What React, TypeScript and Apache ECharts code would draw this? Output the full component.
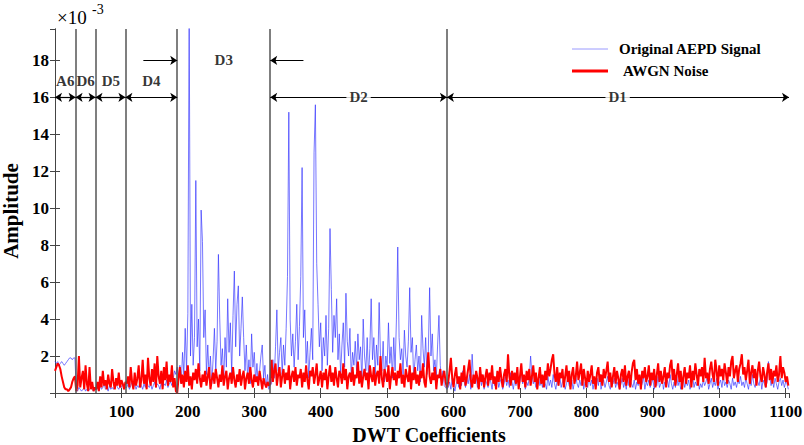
import React, { useEffect, useRef } from "react";
import * as echarts from "echarts";

const FONT = '"Times New Roman", "Liberation Serif", "DejaVu Serif", serif';
const STEP = 2; // coefficient spacing of stored samples
const UNIT = 1e-4; // stored values are in units of 1e-4

// Band boundaries (coefficient index)
const boundaries = [31, 61, 106, 184, 324, 590];
const xMax = 1105;

// AWGN noise (x 1e-4), per band
const redA6 = [12, 14, 16, 15, 13, 9, 6, 3, 2, 2, 1, 2, 3, 6, 8, 9];
const redD6 = [1, 4, 20, 3, 8, 12, 2, 15, 5, 1, 14, 2, 6, 1, 3];
const redD5 = [2, 6, 1, 9, 3, 12, 4, 7, 2, 10, 5, 3, 13, 6, 2, 8, 4, 11, 3, 7, 5, 2, 6];
const redD4 = [5, 9, 3, 14, 6, 2, 11, 4, 8, 15, 3, 7, 18, 5, 10, 2, 19, 8, 4, 13, 6, 16, 3, 20, 9, 5, 12, 2, 14, 7, 17, 4, 10, 6, 15, 3, 8, 1, 0];
const redD3 = [8, 14, 5, 10, 3, 12, 6, 15, 4, 9, 2, 11, 7, 13, 5, 16, 8, 3, 10, 6, 12, 4, 9, 14, 2, 7, 11, 5, 13, 8, 3, 10, 6, 15, 4, 9, 12, 2, 8, 11, 5, 14, 7, 3, 10, 6, 13, 4, 9, 12, 2, 8, 11, 5, 14, 7, 3, 10, 6, 9, 4, 12, 7, 2, 8, 5, 3, 6, 4, 5];
const redD2 = [
  18, 6, 12, 16, 4, 10, 14, 3, 9, 13,
  5, 11, 7, 15, 2, 9, 12, 6, 14, 4,
  10, 8, 13, 3, 11, 6, 15, 7, 2, 12,
  9, 14, 5, 10, 16, 4, 8, 12, 3, 11,
  7, 13, 2, 9, 15, 6, 11, 4, 14, 8,
  3, 12, 10, 5, 16, 7, 13, 2, 9, 11,
  6, 14, 4, 10, 8, 17, 5, 12, 3, 9,
  13, 7, 11, 2, 15, 9, 6, 14, 4, 10,
  12, 5, 20, 8, 3, 13, 10, 6, 15, 2,
  9, 14, 7, 11, 4, 12, 8, 16, 5, 10,
  3, 13, 9, 6, 15, 2, 11, 7, 14, 5,
  10, 4, 12, 8, 16, 6, 3, 13, 22, 9,
  5, 11, 7, 14, 2, 10, 8, 13, 4, 9,
  12, 6, 3,
];
const redD1 = [
  6, 12, 19, 8, 3, 10, 14, 5, 9, 2,
  11, 6, 15, 4, 8, 13, 18, 7, 3, 10,
  5, 12, 8, 2, 14, 6, 10, 3, 9, 13,
  4, 11, 7, 15, 5, 9, 2, 12, 6, 14,
  8, 3, 10, 13, 6, 21, 9, 4, 12, 7,
  11, 5, 14, 2, 9, 16, 6, 10, 3, 12,
  7, 13, 4, 9, 15, 6, 11, 2, 8, 14,
  5, 10, 3, 12, 7, 16, 9, 13, 18, 21,
  10, 6, 14, 4, 11, 8, 13, 3, 9, 15,
  6, 12, 2, 10, 14, 5, 9, 17, 7, 11,
  16, 4, 13, 8, 3, 12, 6, 10, 15, 5,
  9, 2, 11, 14, 6, 10, 4, 13, 8, 12,
  17, 6, 11, 3, 9, 14, 5, 12, 8, 2,
  10, 13, 6, 15, 4, 9, 12, 3, 11, 16,
  18, 7, 13, 5, 10, 2, 12, 8, 14, 6,
  9, 15, 4, 11, 7, 13, 3, 10, 16, 6,
  12, 5, 9, 14, 3, 11, 8, 15, 18, 7,
  13, 4, 10, 16, 6, 12, 2, 9, 14, 5,
  11, 8, 15, 3, 12, 7, 16, 10, 4, 13,
  9, 14, 6, 19, 8, 11, 5, 13, 17, 10,
  6, 18, 12, 4, 15, 9, 13, 7, 16, 11,
  5, 14, 9, 17, 20, 8, 12, 15, 6, 13,
  16, 21, 10, 14, 7, 12, 18, 5, 11, 15,
  8, 13, 4, 12, 17, 9, 6, 14, 10, 3,
  11, 16, 7, 13, 5, 12, 9, 15, 6, 10,
  20, 8, 14, 11, 6, 9, 4,
];

// Original AEPD signal (x 1e-4), per band
const blueA6 = [17, 16, 17, 15, 16, 17, 16, 15, 16, 17, 18, 19, 19, 18, 19, 19];
const blueD6 = [2, 1, 3, 2, 1, 2, 3, 1, 2, 1, 2, 3, 2, 1, 2];
const blueD5 = [2, 3, 1, 4, 2, 3, 5, 2, 3, 1, 4, 2, 3, 2, 4, 5, 3, 2, 4, 3, 5, 2, 3];
const blueD4 = [3, 5, 2, 4, 6, 3, 5, 2, 4, 3, 6, 4, 2, 5, 3, 7, 4, 3, 5, 2, 4, 6, 3, 5, 4, 2, 6, 3, 5, 4, 7, 3, 5, 6, 4, 8, 12, 10, 14];
const blueD3 = [
  8, 15, 5, 22, 10, 35, 12, 43, 210, 20,
  48, 15, 30, 115, 25, 40, 12, 99, 82, 30,
  45, 10, 26, 8, 20, 5, 18, 35, 12, 28,
  75, 40, 15, 24, 6, 30, 14, 51, 22, 38,
  10, 42, 66, 25, 48, 58, 20, 35, 52, 30,
  12, 26, 8, 18, 5, 32, 14, 22, 6, 16,
  4, 12, 20, 26, 8, 15, 3, 10, 2, 4,
];
const blueD2 = [
  5, 18, 8, 25, 45, 12, 22, 30, 10, 26,
  15, 35, 63, 152, 40, 20, 32, 14, 28, 48,
  18, 36, 63, 122, 30, 45, 16, 28, 8, 22,
  35, 18, 130, 156, 70, 48, 25, 38, 12, 30,
  20, 42, 15, 35, 89, 56, 22, 42, 30, 51,
  18, 32, 10, 26, 38, 14, 54, 28, 20, 35,
  8, 22, 15, 28, 12, 32, 18, 25, 6, 40,
  20, 12, 30, 8, 24, 51, 18, 30, 10, 26,
  15, 49, 20, 12, 28, 6, 20, 14, 38, 16,
  25, 8, 30, 12, 40, 79, 30, 18, 24, 10,
  34, 20, 14, 28, 57, 22, 30, 8, 18, 26,
  12, 20, 6, 42, 24, 14, 30, 10, 22, 57,
  20, 32, 12, 18, 8, 26, 42, 15, 6, 12,
  4, 3, 2,
];
const blueD1 = [
  3, 6, 2, 8, 4, 1, 5, 7, 3, 9,
  4, 12, 6, 3, 8, 5, 10, 2, 21, 7,
  5, 9, 3, 6, 11, 4, 8, 2, 7, 5,
  3, 8, 6, 2, 9, 4, 7, 10, 3, 6,
  8, 2, 5, 9, 4, 7, 3, 11, 6, 2,
  7, 4, 9, 3, 6, 12, 5, 8, 2, 6,
  4, 8, 20, 10, 5, 7, 3, 6, 9, 4,
  6, 3, 8, 5, 2, 9, 4, 7, 3, 10,
  5, 2, 7, 4, 9, 3, 6, 8, 2, 5,
  8, 4, 3, 7, 2, 6, 9, 5, 3, 7,
  4, 8, 2, 6, 5, 3, 9, 4, 7, 2,
  6, 3, 8, 4, 10, 2, 5, 7, 3, 6,
  9, 4, 2, 7, 5, 8, 3, 6, 4, 2,
  5, 8, 3, 6, 2, 9, 4, 7, 5, 3,
  7, 2, 6, 4, 8, 3, 5, 9, 2, 6,
  4, 7, 3, 5, 8, 2, 6, 4, 9, 3,
  5, 8, 2, 6, 4, 7, 3, 10, 5, 2,
  6, 3, 9, 4, 7, 2, 5, 8, 3, 6,
  4, 7, 2, 5, 9, 3, 6, 4, 8, 2,
  5, 3, 7, 4, 6, 9, 2, 5, 8, 3,
  6, 4, 8, 2, 5, 7, 3, 9, 4, 6,
  3, 7, 5, 2, 8, 4, 6, 3, 7, 5,
  9, 4, 6, 3, 8, 5, 2, 7, 4, 10,
  5, 3, 8, 6, 4, 9, 2, 7, 5, 3,
  6, 17, 9, 4, 7, 3, 8, 5, 2, 6,
  8, 4, 7, 3, 6, 5, 2,
];

// Band annotations
const bandLabels = [
  { name: "A6", x: 15.5, y: 0.0169, bg: false },
  { name: "D6", x: 46, y: 0.0169, bg: false },
  { name: "D5", x: 84, y: 0.0169, bg: false },
  { name: "D4", x: 145, y: 0.0169, bg: false },
  { name: "D3", x: 254, y: 0.018, bg: false },
  { name: "D2", x: 457, y: 0.016, bg: true },
  { name: "D1", x: 847, y: 0.016, bg: true },
];
const arrowY = 0.016;
const d3ArrowY = 0.018;
const legendNames = ["Original AEPD Signal", "AWGN Noise"];

const toSeries = (vals: number[]) => vals.map((v, i) => [i * STEP, v * UNIT]);
const redData = toSeries([...redA6, ...redD6, ...redD5, ...redD4, ...redD3, ...redD2, ...redD1]);
const blueData = toSeries([...blueA6, ...blueD6, ...blueD5, ...blueD4, ...blueD3, ...blueD2, ...blueD1]);

const both = (a: number, b: number) => [{ coord: [a, arrowY] }, { coord: [b, arrowY] }];
const arrowLines = [
  both(0, boundaries[0]),
  both(boundaries[0], boundaries[1]),
  both(boundaries[1], boundaries[2]),
  both(boundaries[2], boundaries[3]),
  both(boundaries[4], boundaries[5]),
  both(boundaries[5], xMax),
  [{ coord: [133, d3ArrowY], symbol: "none" }, { coord: [boundaries[3], d3ArrowY], symbol: "arrow" }],
  [{ coord: [374, d3ArrowY], symbol: "none" }, { coord: [boundaries[4], d3ArrowY], symbol: "arrow" }],
];

const BLUE = "#3535ff";
const RED = "#ff0000";
const axisColor = "#444";
const labelStyle = { color: "#000", fontFamily: FONT, fontWeight: "bold" as const, fontSize: 17 };

export default function App() {
  const ref = useRef<HTMLDivElement>(null);
  useEffect(() => {
    if (!ref.current) return;
    const chart = echarts.init(ref.current, null, { renderer: "svg" });
    chart.setOption({
      animation: false,
      backgroundColor: "#fff",
      grid: { left: 55, right: 15, top: 29, bottom: 52, containLabel: false, outerBoundsMode: "none" },
      xAxis: [
        {
          type: "value", min: 0, max: xMax, interval: 100,
          axisLine: { show: true, lineStyle: { color: axisColor } },
          axisTick: { inside: true, length: 5, lineStyle: { color: axisColor } },
          axisLabel: { ...labelStyle, showMinLabel: false, showMaxLabel: false, margin: 10, formatter: (v: number) => String(Math.round(v)) },
          splitLine: { show: false },
          name: "DWT Coefficients", nameLocation: "middle", nameGap: 24,
          nameTextStyle: { color: "#000", fontFamily: FONT, fontWeight: "bold", fontSize: 20, padding: [0, 0, 0, 14] },
        },
        {
          type: "value", position: "top", min: 0, max: xMax, interval: 100,
          axisLine: { show: true, lineStyle: { color: axisColor } },
          axisTick: { inside: true, length: 5, lineStyle: { color: axisColor } },
          axisLabel: { show: false }, splitLine: { show: false },
        },
      ],
      yAxis: [
        {
          type: "value", min: 0, max: 0.0197, interval: 0.002,
          axisLine: { show: true, lineStyle: { color: axisColor } },
          axisTick: { inside: true, length: 5, lineStyle: { color: axisColor } },
          axisLabel: { ...labelStyle, showMinLabel: false, showMaxLabel: false, margin: 6, formatter: (v: number) => String(Math.round(v * 1000)) },
          splitLine: { show: false },
          name: "Amplitude", nameLocation: "middle", nameGap: 29,
          nameTextStyle: { color: "#000", fontFamily: FONT, fontWeight: "bold", fontSize: 21 },
        },
        {
          type: "value", position: "right", min: 0, max: 0.0197, interval: 0.002,
          axisLine: { show: true, lineStyle: { color: axisColor } },
          axisTick: { inside: true, length: 5, lineStyle: { color: axisColor } },
          axisLabel: { show: false }, splitLine: { show: false },
        },
      ],
      graphic: [
        { type: "text", left: 57, top: 8, style: { text: "×10", fill: "#000", font: `19px ${FONT}` } },
        { type: "text", left: 92, top: 2, style: { text: "-3", fill: "#000", font: `14px ${FONT}` } },
        // legend
        { type: "line", shape: { x1: 572, y1: 49, x2: 608, y2: 49 }, style: { stroke: "#9a9aff", lineWidth: 1 } },
        { type: "text", x: 619, y: 49, style: { text: legendNames[0], fill: "#000", font: `bold 15px ${FONT}`, verticalAlign: "middle" } },
        { type: "line", shape: { x1: 572, y1: 71, x2: 608, y2: 71 }, style: { stroke: RED, lineWidth: 3 } },
        { type: "text", x: 623, y: 71, style: { text: legendNames[1], fill: "#000", font: `bold 15px ${FONT}`, verticalAlign: "middle" } },
      ],
      series: [
        {
          name: "bounds", type: "line", data: [], z: 1, silent: true,
          markLine: {
            silent: true, symbol: ["none", "none"], animation: false,
            label: { show: false },
            lineStyle: { color: "#555", width: 1.5, type: "solid" },
            data: boundaries.map((b) => ({ xAxis: b })),
          },
        },
        {
          name: legendNames[0], type: "line", data: blueData, symbol: "none", z: 2,
          lineStyle: { color: BLUE, width: 0.8, opacity: 0.85 },
          itemStyle: { color: BLUE },
        },
        {
          name: legendNames[1], type: "line", data: redData, symbol: "none", z: 3,
          lineStyle: { color: RED, width: 2 },
          itemStyle: { color: RED },
        },
        {
          name: "arrows", type: "line", data: [], z: 4, silent: true,
          markLine: {
            silent: true, symbol: ["arrow", "arrow"], symbolSize: 7, animation: false,
            label: { show: false },
            lineStyle: { color: "#000", width: 1.2, type: "solid" },
            data: arrowLines,
          },
        },
        {
          name: "bands", type: "scatter", symbolSize: 0, z: 10, silent: true,
          data: bandLabels.map((b) => ({
            name: b.name, value: [b.x, b.y],
            label: b.bg ? { backgroundColor: "#fff", padding: [0, 3] } : {},
          })),
          label: {
            show: true, position: "inside", formatter: "{b}",
            color: "#000", fontFamily: FONT, fontWeight: "bold", fontSize: 15,
          },
        },
      ],
    });
    return () => chart.dispose();
  }, []);
  return <div ref={ref} style={{ position: "fixed", left: 0, top: 0, width: 804, height: 445, background: "#fff" }} />;
}
